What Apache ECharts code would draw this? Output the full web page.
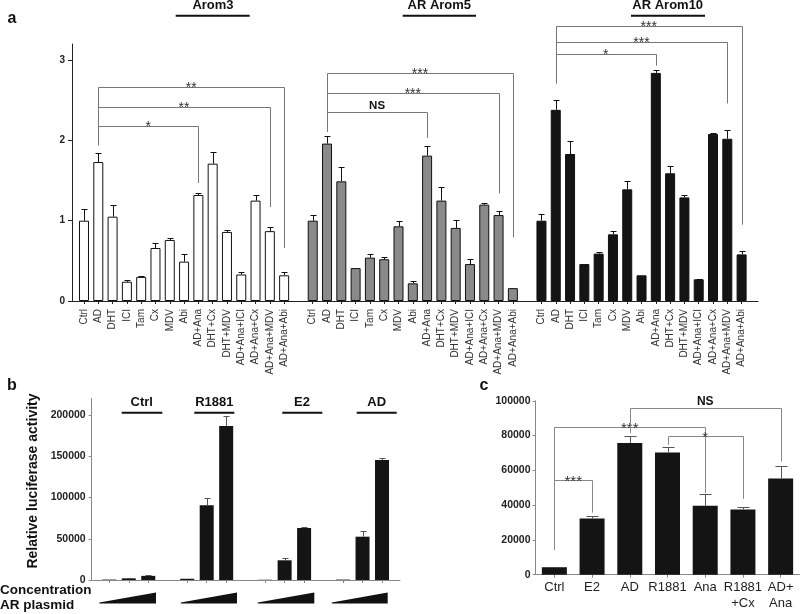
<!DOCTYPE html>
<html><head><meta charset="utf-8">
<script src="https://cdn.jsdelivr.net/npm/echarts@6/dist/echarts.min.js"></script>
<style>html,body{margin:0;padding:0;background:#fff}#c{width:800px;height:614px}</style>
</head><body><div id="c"></div>
<script>
const FONT = '"Liberation Sans", Arial, Helvetica, sans-serif';

// ---------- Panel a ----------
const treatments = ['Ctrl','AD','DHT','ICI','Tam','Cx','MDV','Abi','AD+Ana','DHT+Cx','DHT+MDV','AD+Ana+ICI','AD+Ana+Cx','AD+Ana+MDV','AD+Ana+Abi'];
const groupTitlesA = ['Arom3','AR Arom5','AR Arom10'];
const arom3Vals = [1.00,1.73,1.05,0.24,0.30,0.66,0.76,0.49,1.32,1.71,0.86,0.33,1.25,0.87,0.32];
const arom3Err  = [0.15,0.11,0.15,0.02,0.01,0.06,0.02,0.09,0.03,0.14,0.03,0.03,0.07,0.05,0.04];
const arom5Vals = [1.00,1.96,1.49,0.41,0.54,0.52,0.93,0.22,1.81,1.25,0.91,0.46,1.20,1.07,0.16];
const arom5Err  = [0.07,0.10,0.18,0.00,0.05,0.03,0.07,0.03,0.12,0.17,0.10,0.06,0.02,0.05,0.00];
const arom10Vals = [1.00,2.38,1.83,0.46,0.59,0.83,1.39,0.32,2.84,1.59,1.29,0.27,2.08,2.02,0.58];
const arom10Err  = [0.08,0.12,0.16,0.00,0.02,0.04,0.10,0.00,0.04,0.09,0.03,0.01,0.01,0.11,0.04];
const yTicksA = [0,1,2,3];
// [group, fromTreatment, toTreatment, level, fromEnd, toEnd, label]
const bracketsA = [
  [0,1,8,2.18,1.94,1.47,'*'],
  [0,1,13,2.42,1.94,1.17,'**'],
  [0,1,14,2.67,1.94,0.66,'**'],
  [1,1,8,2.35,2.11,2.03,'NS'],
  [1,1,13,2.59,2.11,1.34,'***'],
  [1,1,14,2.84,2.11,0.79,'***'],
  [2,1,8,3.08,2.71,2.93,'*'],
  [2,1,13,3.23,2.71,2.46,'***'],
  [2,1,14,3.42,2.71,0.95,'***']
];

// ---------- Panel b ----------
const bGroups = ['Ctrl','R1881','E2','AD'];
const bVals = [[500,2000,5000],[1500,90500,186700],[300,23900,63000],[500,52500,145500]];
const bErr  = [[0,300,500],[0,8500,12000],[0,2400,1200],[0,6500,2500]];
const yTicksB = [0,50000,100000,150000,200000];

// ---------- Panel c ----------
const cCats = ['Ctrl','E2','AD','R1881','Ana','R1881\n+Cx','AD+\nAna'];
const cVals = [4300,32300,75700,70300,39600,37500,55300];
const cErr  = [0,1400,4200,3300,6700,1700,7200];
// [from, to, level, fromEnd, toEnd, label]
const bracketsC = [
  [0,1,54200,14200,35700,'***'],
  [0,4,84700,14200,46900,'***'],
  [2,6,95900,81400,65100,'NS'],
  [3,5,79500,74700,43600,'*']
];

// ----- build category lists -----
const groupValsA = [arom3Vals, arom5Vals, arom10Vals];
const groupErrA = [arom3Err, arom5Err, arom10Err];
const groupFillA = ['#ffffff', '#8a8a8a', '#141414'];
const catsA = [];
const barDataA = [];
const errDataA = [];
groupValsA.forEach((vals, g) => {
  if (g > 0) { catsA.push(''); barDataA.push('-'); }
  vals.forEach((v, i) => {
    catsA.push(treatments[i]);
    barDataA.push({ value: v, itemStyle: { color: groupFillA[g] } });
    errDataA.push([catsA.length - 1, v, groupErrA[g][i]]);
  });
});
const idxA = (g, i) => g * 16 + i;

const catsB = [];
const barDataB = [];
const errDataB = [];
bGroups.forEach((name, g) => {
  if (g > 0) { catsB.push(''); barDataB.push('-'); }
  bVals[g].forEach((v, i) => {
    catsB.push(name + '-' + (i + 1));
    barDataB.push(v);
    errDataB.push([catsB.length - 1, v, bErr[g][i]]);
  });
});
const errDataC = cVals.map((v, i) => [i, v, cErr[i]]);

function px(v) { return Math.round(v) + 0.5; }
const plain = v => String(v);

function errRender(capHalf, color) {
  return function (params, api) {
    const x = api.value(0), v = api.value(1), e = api.value(2);
    if (!e) return null;
    const top = api.coord([x, v + e]);
    const bot = api.coord([x, v]);
    const cx = px(top[0]), ty = px(top[1]);
    return {
      type: 'group',
      children: [
        { type: 'line', shape: { x1: cx, y1: bot[1], x2: cx, y2: ty }, style: { stroke: color, lineWidth: 1 } },
        { type: 'line', shape: { x1: cx - capHalf, y1: ty, x2: cx + capHalf, y2: ty }, style: { stroke: color, lineWidth: 1 } }
      ]
    };
  };
}

function bracketRender(list, toIdx, color, starSize, nsSize) {
  return function (params, api) {
    const b = list[params.dataIndex];
    const f = toIdx(b, 0), t = toIdx(b, 1);
    const lv = b[b.length - 4], fe = b[b.length - 3], te = b[b.length - 2], lab = b[b.length - 1];
    const p1 = api.coord([f, fe]), p2 = api.coord([f, lv]), p3 = api.coord([t, lv]), p4 = api.coord([t, te]);
    const ly = px(p2[1]);
    const isNS = lab === 'NS';
    return {
      type: 'group',
      children: [
        { type: 'polyline', shape: { points: [[px(p1[0]), p1[1]], [px(p2[0]), ly], [px(p3[0]), ly], [px(p4[0]), p4[1]]] },
          style: { stroke: color, lineWidth: 1, fill: null } },
        { type: 'text', x: (p2[0] + p3[0]) / 2, y: isNS ? ly - 1 : ly + 1,
          style: { text: lab, fill: isNS ? '#111' : '#333',
            font: (isNS ? 'bold ' + nsSize : starSize) + 'px ' + FONT,
            textAlign: 'center', textVerticalAlign: isNS ? 'bottom' : 'middle' } }
      ]
    };
  };
}

const hiddenVal = (grid, extra) => Object.assign({ gridIndex: grid, type: 'value', min: 0, max: 1, axisLabel: { show: false }, axisTick: { show: false }, splitLine: { show: false } }, extra || {});

const option = {
  animation: false,
  backgroundColor: '#fff',
  textStyle: { fontFamily: FONT },
  grid: [
    { left: 72, top: 44, width: 686, height: 257, outerBoundsMode: 'none' },
    { left: 76.85, top: 44, width: 671.9, height: 257, outerBoundsMode: 'none' },
    { left: 91.7, top: 398.5, width: 308.3, height: 181.5, outerBoundsMode: 'none' },
    { left: 99.56, top: 398.5, width: 292.2, height: 181.5, outerBoundsMode: 'none' },
    { left: 535.5, top: 400.8, width: 264, height: 173.9, outerBoundsMode: 'none' }
  ],
  xAxis: [
    hiddenVal(0, { axisLine: { show: true, lineStyle: { color: '#222', width: 1 } } }),
    { gridIndex: 1, type: 'category', data: catsA,
      axisLine: { show: false },
      axisTick: { show: true, alignWithLabel: true, length: 3, interval: (i, v) => v !== '', lineStyle: { color: '#222' } },
      axisLabel: { interval: 0, rotate: 90, fontSize: 10, margin: 8, color: '#333', fontFamily: FONT },
      splitLine: { show: false } },
    hiddenVal(2, { axisLine: { show: true, lineStyle: { color: '#888', width: 1 } } }),
    { gridIndex: 3, type: 'category', data: catsB,
      axisLine: { show: false },
      axisTick: { show: true, alignWithLabel: true, length: 3, interval: (i, v) => v !== '', lineStyle: { color: '#888' } },
      axisLabel: { show: false }, splitLine: { show: false } },
    { gridIndex: 4, type: 'category', data: cCats,
      axisLine: { show: true, lineStyle: { color: '#888' } },
      axisTick: { show: true, alignWithLabel: true, length: 3, lineStyle: { color: '#888' } },
      axisLabel: { interval: 0, fontSize: 13, margin: 5, color: '#222', lineHeight: 16, fontFamily: FONT },
      splitLine: { show: false } }
  ],
  yAxis: [
    { gridIndex: 0, type: 'value', min: 0, max: 3.2,
      axisLine: { show: true, lineStyle: { color: '#222' } },
      axisTick: { show: true, length: 4, customValues: yTicksA, lineStyle: { color: '#222' } },
      axisLabel: { customValues: yTicksA, formatter: plain, fontSize: 10, fontWeight: 'bold', color: '#222', margin: 7, fontFamily: FONT },
      splitLine: { show: false } },
    { gridIndex: 1, type: 'value', min: 0, max: 3.2, show: false, splitLine: { show: false } },
    { gridIndex: 2, type: 'value', min: 0, max: 220000,
      axisLine: { show: true, lineStyle: { color: '#888' } },
      axisTick: { show: true, length: 3, customValues: yTicksB, lineStyle: { color: '#888' } },
      axisLabel: { customValues: yTicksB, formatter: plain, fontSize: 10.5, fontWeight: 'bold', color: '#222', margin: 6, fontFamily: FONT },
      splitLine: { show: false } },
    { gridIndex: 3, type: 'value', min: 0, max: 220000, show: false, splitLine: { show: false } },
    { gridIndex: 4, type: 'value', min: 0, max: 100000, interval: 20000,
      axisLine: { show: true, lineStyle: { color: '#888' } },
      axisTick: { show: true, length: 3, lineStyle: { color: '#888' } },
      axisLabel: { formatter: plain, fontSize: 10.5, fontWeight: 'bold', color: '#222', margin: 5, fontFamily: FONT },
      splitLine: { show: false } }
  ],
  series: [
    { type: 'bar', xAxisIndex: 1, yAxisIndex: 1, barWidth: 10, data: barDataA,
      itemStyle: { borderColor: '#111', borderWidth: 1 }, z: 2 },
    { type: 'custom', xAxisIndex: 1, yAxisIndex: 1, data: errDataA, renderItem: errRender(3, '#111'), z: 3, clip: false },
    { type: 'custom', xAxisIndex: 1, yAxisIndex: 1, clip: false, z: 4,
      data: bracketsA.map(b => [idxA(b[0], b[1]), b[3]]),
      renderItem: bracketRender(bracketsA, (b, k) => idxA(b[0], b[1 + k]), '#777', 14, 11.5) },
    { type: 'bar', xAxisIndex: 3, yAxisIndex: 3, barWidth: 14, data: barDataB, itemStyle: { color: '#141414' }, z: 2 },
    { type: 'custom', xAxisIndex: 3, yAxisIndex: 3, data: errDataB, renderItem: errRender(3, '#555'), z: 3, clip: false },
    { type: 'bar', xAxisIndex: 4, yAxisIndex: 4, barWidth: 25, data: cVals, itemStyle: { color: '#141414' }, z: 2 },
    { type: 'custom', xAxisIndex: 4, yAxisIndex: 4, data: errDataC, renderItem: errRender(6, '#555'), z: 3, clip: false },
    { type: 'custom', xAxisIndex: 4, yAxisIndex: 4, clip: false, z: 4,
      data: bracketsC.map(b => [b[0], b[2]]),
      renderItem: bracketRender(bracketsC, (b, k) => b[k], '#888', 15, 12) }
  ],
  graphic: []
};

const G = option.graphic;
function txt(x, y, text, size, bold, align, extra) {
  G.push(Object.assign({ type: 'text', x: x, y: y, z: 10,
    style: { text: text, font: (bold ? 'bold ' : '') + size + 'px ' + FONT, fill: '#111', textAlign: align || 'center', textVerticalAlign: 'middle' } }, extra || {}));
}
function hline(x1, x2, y, w) {
  G.push({ type: 'line', z: 10, shape: { x1: x1, y1: y, x2: x2, y2: y }, style: { stroke: '#111', lineWidth: w } });
}
// panel letters
txt(12, 19, 'a', 16, true);
txt(12, 386, 'b', 16, true);
txt(484, 386, 'c', 16, true);
// panel a titles
const titleXA = [213, 439.3, 667.7];
const ulA = [[175.7, 249.7], [402.7, 476], [631, 705]];
groupTitlesA.forEach((t, i) => { txt(titleXA[i], 5, t, 13, true); hline(ulA[i][0], ulA[i][1], 15.7, 2); });
// panel b titles
const titleXB = [141.7, 214.3, 302, 376.7];
const ulB = [[121.7, 162.3], [194.3, 234.3], [282.3, 322.3], [356.7, 396.7]];
bGroups.forEach((t, i) => { txt(titleXB[i], 402, t, 13, true); hline(ulB[i][0], ulB[i][1], 412.7, 2); });
// y name b
txt(33, 481, 'Relative luciferase activity', 14, true, 'center', { rotation: Math.PI / 2 });
// Concentration labels
txt(0, 590.5, 'Concentration', 13.5, true, 'left');
txt(0, 605.5, 'AR plasmid', 13.5, true, 'left');
// wedges
const wedges = [[99.3, 156], [180.7, 237], [257.7, 314.3], [331.7, 387.7]];
wedges.forEach(w => G.push({ type: 'polygon', z: 10, shape: { points: [[w[0], 602.5], [w[1], 592.5], [w[1], 603.5], [w[0], 603.5]] }, style: { fill: '#111' } }));

const chart = echarts.init(document.getElementById('c'), null, { renderer: 'canvas' });
chart.setOption(option);
</script></body></html>
